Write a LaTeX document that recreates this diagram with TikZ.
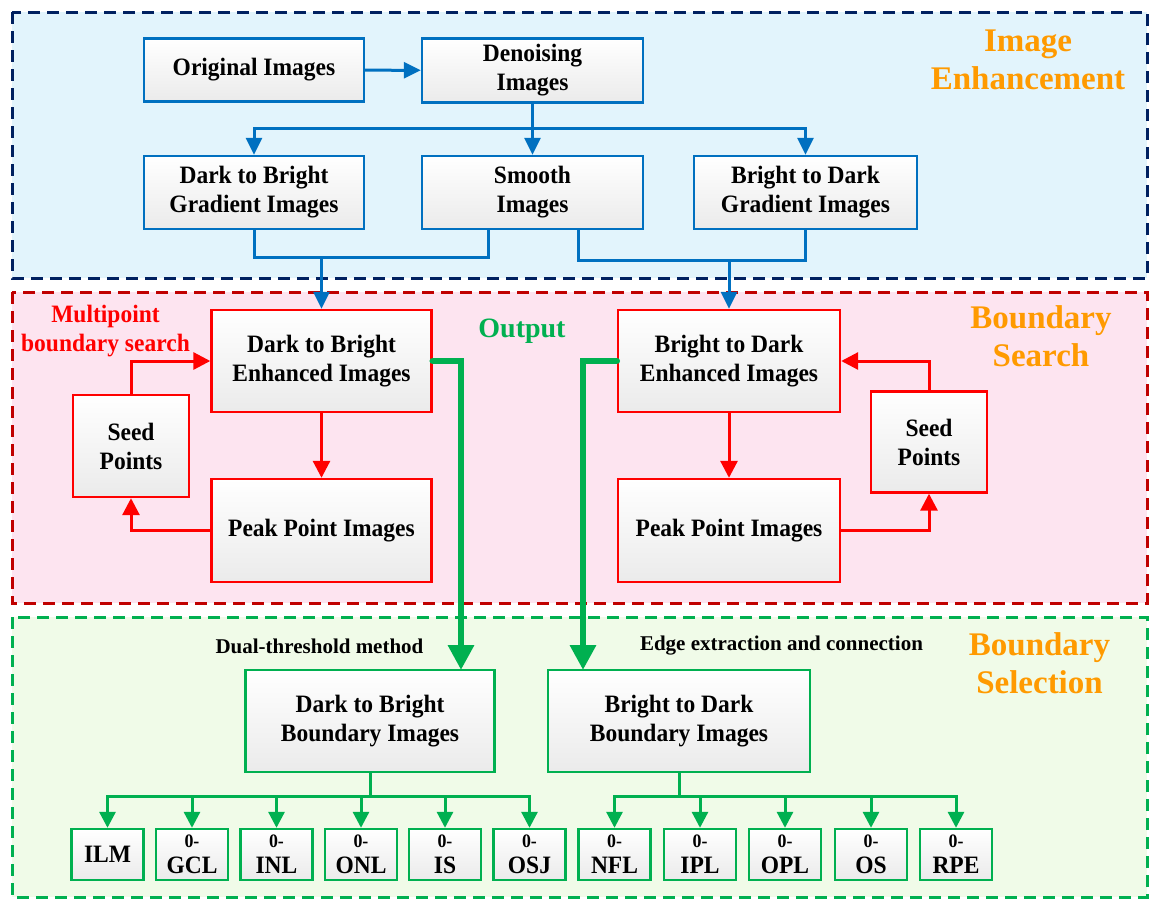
\documentclass[tikz,border=0pt]{standalone}
\usepackage{fontspec}
\setmainfont{Liberation Serif}
\newfontfamily\bxfam{Liberation Serif}[FakeStretch=0.94]
\usetikzlibrary{arrows.meta}
\definecolor{cblue}{HTML}{0070C0}
\definecolor{cred}{HTML}{FF0000}
\definecolor{cgreen}{HTML}{00B050}
\definecolor{corange}{HTML}{FF9A00}
\definecolor{cnavy}{HTML}{002060}
\definecolor{cdred}{HTML}{C00000}
\definecolor{fblue}{HTML}{E2F4FC}
\definecolor{fpink}{HTML}{FDE4F0}
\definecolor{fgreen}{HTML}{F0FBE8}
\newcommand\bxf{\bxfam\bfseries\fontsize{25}{29}\selectfont}
\newcommand\smf{\bxfam\bfseries\fontsize{19}{20}\selectfont}
\begin{document}
\begin{tikzpicture}[x=1pt,y=-1pt,
  panel/.style={line width=3pt, dash pattern=on 12pt off 7pt},
  box/.style={draw, line width=2.4pt, top color=white, bottom color=black!8, inner sep=0pt, align=center, font=\bxf, text=black},
  bbox/.style={box, draw=cblue},
  rbox/.style={box, draw=cred},
  gbox/.style={box, draw=cgreen},
  sbox/.style={gbox, minimum width=72pt, minimum height=51pt},
  bline/.style={draw=cblue, line width=3pt},
  bconn/.style={bline, -{Triangle[length=17pt,width=16pt]}},
  rconn/.style={draw=cred, line width=3pt, -{Triangle[length=17pt,width=17pt]}},
  gline/.style={draw=cgreen, line width=3pt},
  gconn/.style={gline, -{Triangle[length=16pt,width=16pt]}},
  gthick/.style={draw=cgreen, line width=6.5pt, line cap=round, -{Triangle[length=25pt,width=25pt]}},
  ttl/.style={text=corange, font=\bfseries\fontsize{33}{38.5}\selectfont, align=center},
  lbl/.style={font=\bfseries\fontsize{21}{25}\selectfont, text=black}
]
\useasboundingbox (0,0) rectangle (1153,900);
% panels
\draw[panel, draw=cnavy, fill=fblue] (12,12) rectangle (1147,278);
\draw[panel, draw=cdred, fill=fpink] (12,292) rectangle (1147,603);
\draw[panel, draw=cgreen, fill=fgreen] (12,617) rectangle (1147,897);
% titles
\node[ttl] (t1) at (1028,60) {Image\\Enhancement};
\node[ttl] (t2) at (1041,336) {Boundary\\Search};
\node[ttl] (t3) at (1039.5,663) {Boundary\\Selection};
% blue boxes
\node[bbox, minimum width=220pt, minimum height=63pt] (orig) at (254,70) {Original Images};
\node[bbox, minimum width=221pt, minimum height=64pt] (den) at (532.5,70.5) {Denoising\\Images};
\node[bbox, minimum width=220pt, minimum height=73pt] (dbg) at (254,192.5) {Dark to Bright\\Gradient Images};
\node[bbox, minimum width=221pt, minimum height=73pt] (smooth) at (532.5,192.5) {Smooth\\Images};
\node[bbox, minimum width=223pt, minimum height=73pt] (bdg) at (805.5,192.5) {Bright to Dark\\Gradient Images};
% red boxes
\node[rbox, minimum width=220pt, minimum height=102pt] (dbenh) at (321.5,361) {Dark to Bright\\Enhanced Images};
\node[rbox, minimum width=220pt, minimum height=103pt] (peakL) at (321.5,530.5) {Peak Point Images};
\node[rbox, minimum width=116pt, minimum height=102pt] (seedL) at (131,446) {Seed\\Points};
\node[rbox, minimum width=222pt, minimum height=102pt] (bdenh) at (729,361) {Bright to Dark\\Enhanced Images};
\node[rbox, minimum width=222pt, minimum height=103pt] (peakR) at (729,530.5) {Peak Point Images};
\node[rbox, minimum width=116pt, minimum height=101pt] (seedR) at (929,442) {Seed\\Points};
\node[text=cred, font=\bxf, align=center] (mbs) at (105.5,331) {Multipoint\\boundary search};
\node[text=cgreen, font=\bfseries\fontsize{28}{32}\selectfont] (out) at (522,331) {Output};
% green boxes
\node[gbox, minimum width=249pt, minimum height=102pt] (dbb) at (370,721) {Dark to Bright\\Boundary Images};
\node[gbox, minimum width=262pt, minimum height=102pt] (bdb) at (679,721) {Bright to Dark\\Boundary Images};
\node[lbl] (dtm) at (319.5,646) {Dual-threshold method};
\node[lbl] (eec) at (781.5,646) {Edge extraction and connection};
\node[sbox] (b1) at (107.5,854.5) {ILM};
\node[sbox] (b2) at (192,854.5) {\smf 0-\\[-3pt]\bxf GCL};
\node[sbox] (b3) at (276.5,854.5) {\smf 0-\\[-3pt]\bxf INL};
\node[sbox] (b4) at (361,854.5) {\smf 0-\\[-3pt]\bxf ONL};
\node[sbox] (b5) at (445,854.5) {\smf 0-\\[-3pt]\bxf IS};
\node[sbox] (b6) at (529.5,854.5) {\smf 0-\\[-3pt]\bxf OSJ};
\node[sbox] (b7) at (614.5,854.5) {\smf 0-\\[-3pt]\bxf NFL};
\node[sbox] (b8) at (700,854.5) {\smf 0-\\[-3pt]\bxf IPL};
\node[sbox] (b9) at (785,854.5) {\smf 0-\\[-3pt]\bxf OPL};
\node[sbox] (b10) at (871,854.5) {\smf 0-\\[-3pt]\bxf OS};
\node[sbox] (b11) at (956,854.5) {\smf 0-\\[-3pt]\bxf RPE};
% blue connectors
\coordinate (jb) at (532.5,128);
\draw[bconn] (orig) -- (den);
\draw[bline] (den.south) -- (jb);
\draw[bconn] (jb) -- (smooth.north);
\draw[bconn] (jb) -| (dbg.north);
\draw[bconn] (jb) -| (bdg.north);
\coordinate (s1) at (488,229);
\coordinate (jl) at (321.5,257);
\draw[bline] (dbg.south) |- (jl) -| (s1);
\draw[bconn] (jl) -- (dbenh.north);
\coordinate (s2) at (578,229);
\coordinate (jr) at (729,260);
\draw[bline] (s2) |- (jr) -| (bdg.south);
\draw[bconn] (jr) -- (bdenh.north);
% red connectors
\draw[rconn] (dbenh.south) -- (peakL.north);
\draw[rconn] (seedL.north) |- (dbenh.west);
\draw[rconn] (peakL.west) -| (seedL.south);
\draw[rconn] (bdenh.south) -- (peakR.north);
\draw[rconn] (seedR.north) |- (bdenh.east);
\draw[rconn] (peakR.east) -| (seedR.south);
% green output
\coordinate (g1) at (461,670);
\coordinate (g2) at (583,670);
\draw[gthick] (dbenh.east) -| (g1);
\draw[gthick] (bdenh.west) -| (g2);
% branches
\coordinate (jg1) at (370,796.7);
\draw[gline] (dbb.south) -- (jg1);
\foreach \b in {b1,b2,b3,b4,b5,b6} \draw[gconn] (jg1) -| (\b.north);
\coordinate (jg2) at (679,796.7);
\draw[gline] (bdb.south) -- (jg2);
\foreach \b in {b7,b8,b9,b10,b11} \draw[gconn] (jg2) -| (\b.north);
\end{tikzpicture}
\end{document}
